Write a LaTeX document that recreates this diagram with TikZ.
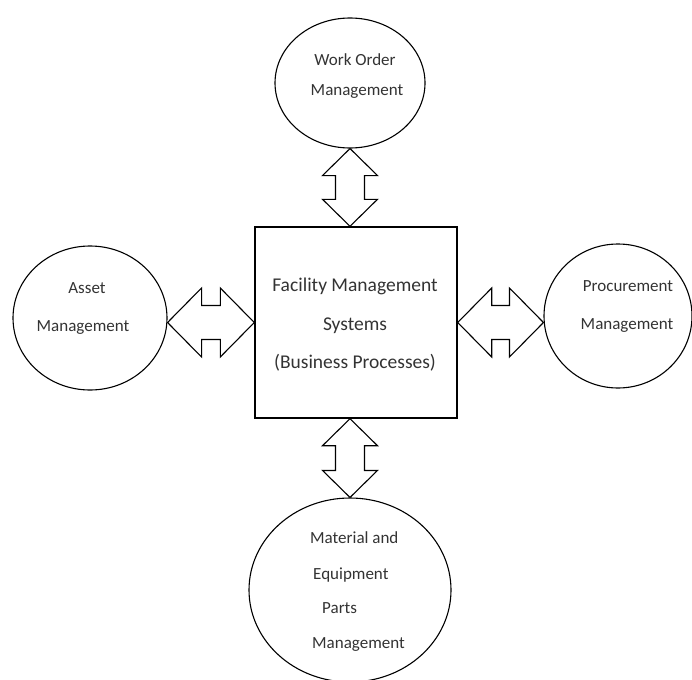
\documentclass[tikz,border=0pt]{standalone}
\usepackage{fontspec}
\setmainfont{Carlito}
\usetikzlibrary{calc,shapes.geometric}
\begin{document}
\begin{tikzpicture}[x=1pt,y=-1pt,
  bubble/.style={draw, ellipse, line width=1.1pt, inner sep=0pt},
  process/.style={draw, rectangle, line width=1.4pt, inner sep=0pt},
  lbl/.style={font=\fontsize{17}{20}\selectfont, text=black!80, inner sep=0pt, anchor=base},
  lblw/.style={lbl, anchor=base west},
  boxlbl/.style={font=\fontsize{19.5}{23}\selectfont, text=black!80, inner sep=0pt, anchor=base},
  % hollow double-headed block arrow: #1 head length, #2 half shaft width, #3 half head width
  blockarrow/.style n args={3}{line width=1.1pt, line join=miter, to path={
    -- ($(\tikztostart)!#1!(\tikztotarget)!#3!90:(\tikztotarget)$)
    -- ($(\tikztostart)!#1!(\tikztotarget)!#2!90:(\tikztotarget)$)
    -- ($(\tikztotarget)!#1!(\tikztostart)!#2!-90:(\tikztostart)$)
    -- ($(\tikztotarget)!#1!(\tikztostart)!#3!-90:(\tikztostart)$)
    -- (\tikztotarget)
    -- ($(\tikztotarget)!#1!(\tikztostart)!#3!90:(\tikztostart)$)
    -- ($(\tikztotarget)!#1!(\tikztostart)!#2!90:(\tikztostart)$)
    -- ($(\tikztostart)!#1!(\tikztotarget)!#2!-90:(\tikztotarget)$)
    -- ($(\tikztostart)!#1!(\tikztotarget)!#3!-90:(\tikztotarget)$)
    -- cycle}},
  harrow/.style={blockarrow={34pt}{17pt}{34.5pt}},
  varrow/.style={blockarrow={27pt}{14.5pt}{27.5pt}}
]
\useasboundingbox (0,0) rectangle (692,679);

% central process box
\node[process, minimum width=202pt, minimum height=191pt] (fms) at (356,322.5) {};
\node[boxlbl] (fms1) at (355,291) {Facility Management};
\node[boxlbl] (fms2) at (355,330) {Systems};
\node[boxlbl] (fms3) at (355,368) {(Business Processes)};

% surrounding subsystems
\node[bubble, minimum width=150pt, minimum height=130pt] (wo) at (350,83) {};
\node[lbl] (wo1) at (355,66) {Work Order};
\node[lbl] (wo2) at (357,96) {Management};

\node[bubble, minimum width=154pt, minimum height=144pt] (asset) at (90,318) {};
\node[lbl] (as1) at (87,293) {Asset};
\node[lbl] (as2) at (83,331) {Management};

\node[bubble, minimum width=148pt, minimum height=144pt] (proc) at (618,316) {};
\node[lbl] (pr1) at (628,291) {Procurement};
\node[lbl] (pr2) at (627,329) {Management};

\node[bubble, minimum width=202pt, minimum height=184pt] (mat) at (350,590) {};
\node[lblw] (ma1) at (310,543) {Material and};
\node[lblw] (ma2) at (313,579) {Equipment};
\node[lblw] (ma3) at (322,613) {Parts};
\node[lblw] (ma4) at (312,648) {Management};

% arrow end points on the box sides
\coordinate (topend) at (fms.north -| wo.south);
\coordinate (botend) at (fms.south -| mat.north);
\coordinate (leftend) at (asset.east |- fms.west);
\coordinate (rightend) at (proc.west |- fms.east);

% two-way links
\draw[varrow] (wo.south) to (topend);
\draw[varrow] (botend) to (mat.north);
\draw[harrow] (leftend) to (fms.west);
\draw[harrow] (fms.east) to (rightend);
\end{tikzpicture}
\end{document}
